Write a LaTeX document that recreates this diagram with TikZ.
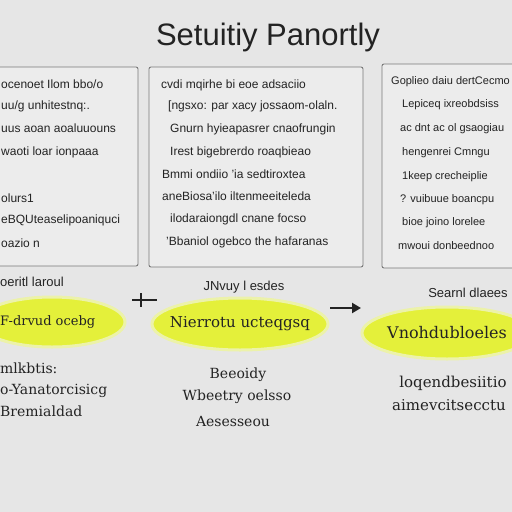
\documentclass[tikz,border=0pt]{standalone}
\usepackage{fontspec}
\setmainfont{Liberation Sans}
\newfontfamily\lowfont{DejaVu Serif}
\usetikzlibrary{shapes.geometric,arrows.meta}
\definecolor{bgc}{RGB}{230,230,230}
\definecolor{boxc}{RGB}{236,236,236}
\definecolor{edgec}{RGB}{120,120,120}
\definecolor{inkc}{RGB}{35,35,35}
\definecolor{hilite}{RGB}{228,240,58}
\definecolor{glow}{RGB}{236,242,170}
\tikzset{
  panel/.style={draw=edgec, line width=0.9pt, fill=boxc, rounded corners=2pt},
  btxt/.style={anchor=west, inner sep=0pt, text=inkc, font=\fontsize{12}{13}\selectfont},
  ctxt/.style={anchor=west, inner sep=0pt, text=inkc, font=\fontsize{11}{12}\selectfont},
  oval/.style={ellipse, fill=hilite, draw=glow, line width=3pt, inner sep=0pt},
  otxt/.style={inner sep=0pt, text=inkc, font=\lowfont\fontsize{15}{17}\selectfont},
  ltxt/.style={inner sep=0pt, text=inkc, font=\lowfont\fontsize{14}{16}\selectfont},
  htxt/.style={inner sep=0pt, text=inkc, font=\fontsize{13}{14}\selectfont},
  flow/.style={-{Triangle[length=9pt,width=10pt]}, line width=2.2pt, draw=inkc}
}
\begin{document}
\begin{tikzpicture}[x=1pt,y=-1pt]
\fill[bgc] (0,0) rectangle (512,512);
\useasboundingbox (0,0) rectangle (512,512);

% title
\node[inner sep=0pt, text=inkc, font=\fontsize{31}{33}\selectfont] (title) at (268,37) {Setuitiy Panortly};

% panels
\draw[panel] (-5,67) rectangle (138,266);
\draw[panel] (149,67) rectangle (363,267);
\draw[panel] (382,64) rectangle (520,268);

% panel 1 text
\node[btxt] (a1) at (1,84) {ocenoet Ilom bbo/o};
\node[btxt] (a2) at (1,106) {uu/g unhitestnq:.};
\node[btxt] (a3) at (1,128) {uus aoan aoaluuouns};
\node[btxt] (a4) at (1,152) {waoti loar ionpaaa};
\node[btxt] (a5) at (1,198) {olurs1};
\node[btxt] (a6) at (1,220) {eBQUteaselipoaniquci};
\node[btxt] (a7) at (1,243) {oazio n};

% panel 2 text
\node[btxt] (b1) at (161,85) {cvdi mqirhe bi eoe adsaciio};
\node[btxt] (b2) at (168,106) {[ngsxo: par xacy jossaom-olaln.};
\node[btxt] (b3) at (170,129) {Gnurn hyieapasrer cnaofrungin};
\node[btxt] (b4) at (170,152) {Irest bigebrerdo roaqbieao};
\node[btxt] (b5) at (162,174) {Bmmi ondiio 'ia sedtiroxtea};
\node[btxt] (b6) at (162,196) {aneBiosa'ilo iltenmeeiteleda};
\node[btxt] (b7) at (170,219) {ilodaraiongdl cnane focso};
\node[btxt] (b8) at (166,242) {'Bbaniol ogebco the hafaranas};

% panel 3 text
\node[ctxt] (c1) at (391,82) {Goplieo daiu dertCecmo};
\node[ctxt] (c2) at (402,105) {Lepiceq ixreobdsiss};
\node[ctxt] (c3) at (400,129) {ac dnt ac ol gsaogiau};
\node[ctxt] (c4) at (402,153) {hengenrei Cmngu};
\node[ctxt] (c5) at (402,177) {1keep crecheiplie};
\node[ctxt] (c6) at (400,200) {? vuibuue boancpu};
\node[ctxt] (c7) at (402,223) {bioe joino lorelee};
\node[ctxt] (c8) at (398,246) {mwoui donbeednoo};

% headings above ovals
\node[htxt, anchor=west] (h1) at (0,282) {oeritl laroul};
\node[htxt] (h2) at (244,287) {JNvuy l esdes};
\node[htxt] (h3) at (468,293) {Searnl dlaees};

% ovals
\node[oval, minimum width=146pt, minimum height=50pt] (e1) at (52,322) {};
\node[otxt, anchor=west, font=\lowfont\fontsize{13}{15}\selectfont] (t1) at (0,322) {F-drvud ocebg};
\node[oval, minimum width=176pt, minimum height=52pt] (e2) at (240,324) {};
\node[otxt] (t2) at (e2.center) {Nierrotu ucteqgsq};
\node[oval, minimum width=170pt, minimum height=52pt] (e3) at (447,333) {};
\node[otxt, font=\lowfont\fontsize{16}{18}\selectfont] (t3) at (e3.center) {Vnohdubloeles};

% arrows
\coordinate (s1) at (132,300);
\coordinate (s2) at (157,300);
\draw[line width=2pt, draw=inkc] (s1) -- (s2);
\draw[line width=1.6pt, draw=inkc] (141,293) -- (141,307);
\coordinate (r1) at (330,308);
\coordinate (r2) at (361,308);
\draw[flow] (r1) -- (r2);

% text below ovals
\node[ltxt, anchor=west] (d1) at (0,368) {mlkbtis:};
\node[ltxt, anchor=west] (d2) at (0,391) {o-Yanatorcisicg};
\node[ltxt, anchor=west] (d3) at (0,411) {Bremialdad};
\node[ltxt] (f1) at (238,375) {Beeoidy};
\node[ltxt] (f2) at (237,397) {Wbeetry oelsso};
\node[ltxt] (f3) at (233,421) {Aesesseou};
\node[ltxt, font=\lowfont\fontsize{15}{17}\selectfont] (g1) at (453,383) {loqendbesiitio};
\node[ltxt, font=\lowfont\fontsize{15}{17}\selectfont] (g2) at (449,405) {aimevcitsecctu};
\end{tikzpicture}
\end{document}
